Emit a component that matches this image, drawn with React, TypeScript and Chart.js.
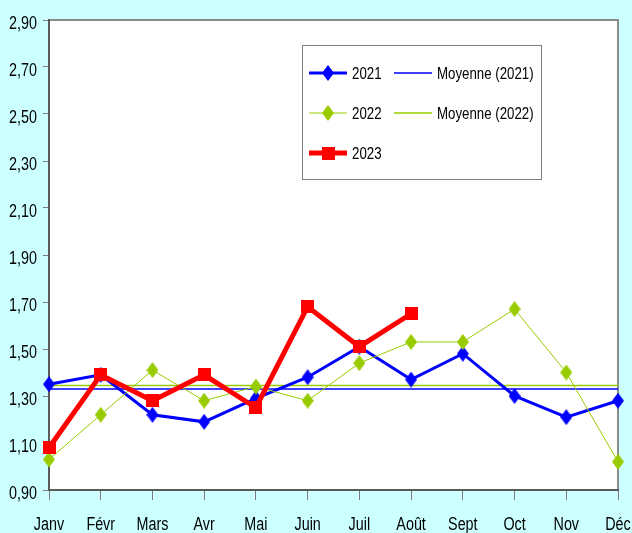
import React, { useEffect, useRef } from "react";
import { Chart, registerables } from "chart.js";

Chart.register(...registerables);

const months = ["Janv", "Févr", "Mars", "Avr", "Mai", "Juin", "Juil", "Août", "Sept", "Oct", "Nov", "Déc"];
const values2021 = [1.35, 1.39, 1.22, 1.19, 1.29, 1.38, 1.51, 1.37, 1.48, 1.30, 1.21, 1.28];
const values2022 = [1.03, 1.22, 1.41, 1.28, 1.34, 1.28, 1.44, 1.53, 1.53, 1.67, 1.40, 1.02];
const values2023 = [1.08, 1.39, 1.28, 1.39, 1.25, 1.68, 1.51, 1.65];
const mean2021 = [1.33, 1.33, 1.33, 1.33, 1.33, 1.33, 1.33, 1.33, 1.33, 1.33, 1.33, 1.33];
const mean2022 = [1.345, 1.345, 1.345, 1.345, 1.345, 1.345, 1.345, 1.345, 1.345, 1.345, 1.345, 1.345];
const yTicksMin = 0.9;
const yTicksMax = 2.9;
const yStep = 0.2;

const BLUE = "#0000FF";
const GREEN = "#99CC00";
const RED = "#FF0000";
const BG = "#CCFFFF";
const FONT = "'Liberation Sans', Arial, sans-serif";
const NARROW = 0.82;

function makeDiamond(color: string, w: number, h: number): HTMLCanvasElement {
  const c = document.createElement("canvas");
  c.width = w;
  c.height = h;
  const ctx = c.getContext("2d")!;
  ctx.fillStyle = color;
  ctx.beginPath();
  ctx.moveTo(w / 2, 0);
  ctx.lineTo(w, h / 2);
  ctx.lineTo(w / 2, h);
  ctx.lineTo(0, h / 2);
  ctx.closePath();
  ctx.fill();
  return c;
}

function makeSquare(color: string, s: number): HTMLCanvasElement {
  const c = document.createElement("canvas");
  c.width = s;
  c.height = s;
  const ctx = c.getContext("2d")!;
  ctx.fillStyle = color;
  ctx.fillRect(0, 0, s, s);
  return c;
}

function drawNarrow(ctx: CanvasRenderingContext2D, text: string, x: number, y: number, align: CanvasTextAlign, size: number) {
  ctx.save();
  ctx.font = size + "px " + FONT;
  ctx.fillStyle = "#000";
  ctx.textBaseline = "alphabetic";
  ctx.textAlign = align;
  ctx.translate(x, y);
  ctx.scale(NARROW, 1);
  ctx.fillText(text, 0, 0);
  ctx.restore();
}

export default function App() {
  const ref = useRef<HTMLCanvasElement | null>(null);

  useEffect(() => {
    document.body.style.margin = "0";
    const canvas = ref.current;
    if (!canvas) return;

    const blueDiamond = makeDiamond(BLUE, 12, 16);
    const greenDiamond = makeDiamond(GREEN, 12, 16);
    const redSquare = makeSquare(RED, 13);

    const framePlugin = {
      id: "frame",
      beforeDraw(chart: any) {
        const { ctx, chartArea, width, height } = chart;
        ctx.save();
        ctx.fillStyle = BG;
        ctx.fillRect(0, 0, width, height);
        ctx.fillStyle = "#FFFFFF";
        ctx.fillRect(chartArea.left, chartArea.top, chartArea.right - chartArea.left, chartArea.bottom - chartArea.top);
        ctx.strokeStyle = "#8C8C8C";
        ctx.lineWidth = 2;
        ctx.strokeRect(chartArea.left, chartArea.top, chartArea.right - chartArea.left, chartArea.bottom - chartArea.top);
        ctx.restore();
      },
      afterDraw(chart: any) {
        const { ctx } = chart;
        // axis labels (narrow)
        const xs = chart.scales.x;
        const ys = chart.scales.y;
        xs.ticks.forEach((t: any, i: number) => {
          const px = xs.getPixelForTick(i);
          drawNarrow(ctx, String(xs.getLabelForValue(t.value)), px, 530, "center", 17.5);
        });
        ys.ticks.forEach((t: any, i: number) => {
          const py = ys.getPixelForTick(i);
          drawNarrow(ctx, Number(t.value).toFixed(2).replace(".", ","), 37, py + 8.5, "right", 17.5);
        });

        // legend
        const bx = 302, by = 45, bw = 239, bh = 134;
        ctx.save();
        ctx.fillStyle = "#FFFFFF";
        ctx.fillRect(bx, by, bw, bh);
        ctx.strokeStyle = "#808080";
        ctx.lineWidth = 1;
        ctx.strokeRect(bx + 0.5, by + 0.5, bw, bh);
        const ds = chart.data.datasets;
        const items = [
          { d: ds[0], x: 309, y: 73, marker: blueDiamond },
          { d: ds[3], x: 394, y: 73, marker: null },
          { d: ds[1], x: 309, y: 113, marker: greenDiamond },
          { d: ds[4], x: 394, y: 113, marker: null },
          { d: ds[2], x: 309, y: 153, marker: redSquare },
        ];
        for (const it of items) {
          const len = 38;
          ctx.strokeStyle = it.d.borderColor;
          ctx.lineWidth = it.d.borderWidth;
          ctx.beginPath();
          ctx.moveTo(it.x, it.y);
          ctx.lineTo(it.x + len, it.y);
          ctx.stroke();
          if (it.marker) {
            const m = it.marker as HTMLCanvasElement;
            ctx.drawImage(m, it.x + len / 2 - m.width / 2, it.y - m.height / 2);
          }
          drawNarrow(ctx, it.d.label, it.x + len + 5, it.y + 6, "left", 16.2);
        }
        ctx.restore();
      },
    };

    const chart = new Chart(canvas, {
      type: "line",
      data: {
        labels: months,
        datasets: [
          {
            label: "2021",
            data: values2021,
            borderColor: BLUE,
            backgroundColor: BLUE,
            borderWidth: 3,
            pointStyle: blueDiamond as any,
            pointRadius: 7,
            order: 2,
          },
          {
            label: "2022",
            data: values2022,
            borderColor: GREEN,
            backgroundColor: GREEN,
            borderWidth: 1,
            pointStyle: greenDiamond as any,
            pointRadius: 7,
            order: 1,
          },
          {
            label: "2023",
            data: values2023,
            borderColor: RED,
            backgroundColor: RED,
            borderWidth: 5,
            pointStyle: redSquare as any,
            pointRadius: 7,
            order: 0,
          },
          {
            label: "Moyenne (2021)",
            data: mean2021,
            borderColor: BLUE,
            borderWidth: 1.5,
            pointRadius: 0,
            order: 4,
          },
          {
            label: "Moyenne (2022)",
            data: mean2022,
            borderColor: GREEN,
            borderWidth: 1.5,
            pointRadius: 0,
            order: 3,
          },
        ],
      },
      options: {
        animation: false,
        responsive: false,
        layout: { padding: { top: 20, right: 14, left: 0, bottom: 0 } },
        plugins: {
          legend: { display: false },
          tooltip: { enabled: false },
        },
        scales: {
          x: {
            type: "category",
            offset: false,
            grid: { drawOnChartArea: false, drawTicks: true, tickLength: 10, color: "#7A7A7A" },
            border: { display: true, color: "#5A5A5A", width: 2 },
            ticks: {
              font: { family: FONT, size: 12 },
              color: "rgba(0,0,0,0)",
              padding: 4,
              maxRotation: 0,
              autoSkip: false,
            },
            afterFit: (s: any) => {
              s.height = 43;
              s.paddingLeft = 0;
              s.paddingRight = 0;
            },
          },
          y: {
            min: yTicksMin,
            max: yTicksMax,
            grid: { drawOnChartArea: false, drawTicks: true, tickLength: 6, color: "#7A7A7A" },
            border: { display: true, color: "#5A5A5A", width: 2 },
            ticks: {
              stepSize: yStep,
              font: { family: FONT, size: 12 },
              color: "rgba(0,0,0,0)",
              padding: 4,
            },
            afterFit: (s: any) => {
              s.width = 49;
              s.paddingTop = 0;
              s.paddingBottom = 0;
            },
          },
        },
      },
      plugins: [framePlugin],
    });

    return () => chart.destroy();
  }, []);

  return (
    <div style={{ width: 632, height: 533, background: BG }}>
      <canvas ref={ref} width={632} height={533} style={{ display: "block" }} />
    </div>
  );
}
